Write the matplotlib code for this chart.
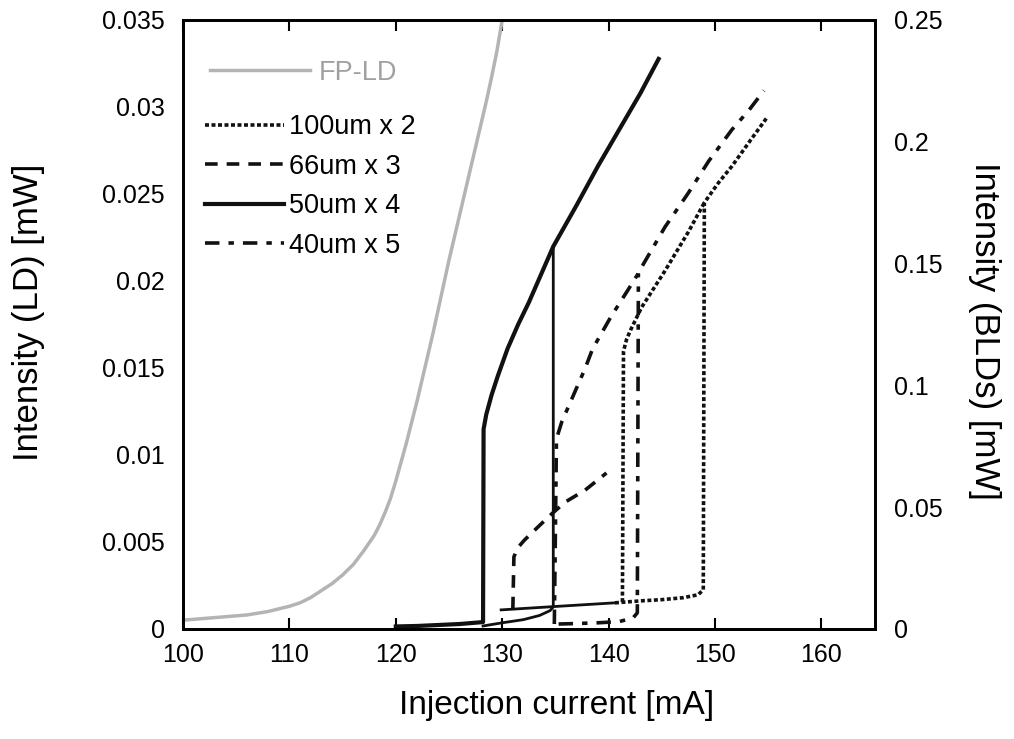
import matplotlib
matplotlib.use("Agg")
import matplotlib.pyplot as plt

plt.rcParams["font.family"] = ["Liberation Sans", "DejaVu Sans"]

# FP-LD (left axis, mW)
fp_x = [100, 102, 104, 106, 108, 110, 111, 112, 113, 114, 115, 116, 117, 118, 118.5, 119, 119.5, 120, 120.5, 121,
        121.5, 122, 122.5, 123, 123.5, 124, 124.5, 125, 125.5, 126, 126.5, 127, 127.5, 128, 128.5, 129, 129.5, 130]
fp_y = [0.0005, 0.0006, 0.0007, 0.0008, 0.0010, 0.0013, 0.0015, 0.0018, 0.0022, 0.0026, 0.0031, 0.0037, 0.0045,
        0.0054, 0.0060, 0.0067, 0.0075, 0.0085, 0.0096, 0.0107, 0.0119, 0.0131, 0.0144, 0.0157, 0.0170, 0.0184,
        0.0198, 0.0212, 0.0225, 0.0238, 0.0251, 0.0264, 0.0277, 0.0290, 0.0303, 0.0317, 0.0332, 0.0350]

# 50um x 4 (right axis, mW)
s50_x = [120, 122, 124, 126, 128.2, 128.25, 128.5, 129.0, 129.6, 130.5, 131.5, 132.5, 133.4, 134.8, 137, 139, 141,
         143, 144.7]
s50_y = [0.0010, 0.0012, 0.0016, 0.0020, 0.0028, 0.082, 0.088, 0.096, 0.104, 0.115, 0.125, 0.134, 0.143, 0.157,
         0.174, 0.190, 0.205, 0.220, 0.234]
s50_low_x = [128.2, 130, 132, 133.5, 134.5, 134.8, 134.8]
s50_low_y = [0.0012, 0.0025, 0.0038, 0.0055, 0.0075, 0.009, 0.157]
base_x = [129.9, 135, 140.6]
base_y = [0.0078, 0.0092, 0.0107]

# 100um x 2
s100_x = [140.6, 143, 145, 147, 148.4, 148.9, 149.0, 150.3, 151.6, 153.4, 154.9]
s100_y = [0.0107, 0.0115, 0.012, 0.0128, 0.014, 0.016, 0.175, 0.183, 0.190, 0.201, 0.210]
s100_up_x = [141.3, 141.4, 141.7, 142.1, 143.1, 145.3, 147.5, 149.0]
s100_up_y = [0.011, 0.114, 0.119, 0.123, 0.132, 0.147, 0.163, 0.175]

# 66um x 3
s66_x = [131.0, 131.1, 131.5, 132.1, 133.4, 134.6, 135.9, 137.8, 139.8]
s66_y = [0.008, 0.0296, 0.0335, 0.0365, 0.042, 0.047, 0.052, 0.057, 0.064]

# 40um x 5
s40_x = [134.9, 135.1, 135.6, 136.5, 137.8, 138.5, 140.2, 141.8, 142.8, 143.3, 145.3, 147.5, 149.4, 151.6, 153.2,
         154.6]
s40_y = [0.002, 0.078, 0.085, 0.094, 0.107, 0.115, 0.128, 0.139, 0.146, 0.150, 0.165, 0.179, 0.192, 0.205, 0.213,
         0.221]
s40_low_x = [135.3, 137, 139, 141, 142.3, 142.7, 142.8]
s40_low_y = [0.0020, 0.0022, 0.0025, 0.003, 0.0045, 0.0066, 0.146]

x_ticks = [100, 110, 120, 130, 140, 150, 160]
left_ticks = [0, 0.005, 0.01, 0.015, 0.02, 0.025, 0.03, 0.035]
right_ticks = [0, 0.05, 0.1, 0.15, 0.2, 0.25]

fig = plt.figure(figsize=(10.14, 7.39), dpi=100)
ax = fig.add_axes([0.1805, 0.149, 0.682, 0.824])
ax2 = ax.twinx()

k = "#111111"
fp_line, = ax.plot(fp_x, fp_y, color="#b4b4b4", lw=2.5)

l100, = ax2.plot(s100_x, s100_y, color=k, lw=2.6, ls=(0, (1.1, 0.7)))
ax2.plot(s100_up_x, s100_up_y, color=k, lw=2.6, ls=(0, (1.1, 0.7)))
l66, = ax2.plot(s66_x, s66_y, color=k, lw=2.6, ls=(0, (3.5, 2.5)))
l50, = ax2.plot(s50_x, s50_y, color=k, lw=3)
ax2.plot(s50_low_x, s50_low_y, color=k, lw=2)
ax2.plot(base_x, base_y, color=k, lw=2)
l40, = ax2.plot(s40_x, s40_y, color=k, lw=2.6, ls=(0, (4, 2.5, 1.5, 2.5)))
ax2.plot(s40_low_x, s40_low_y, color=k, lw=2.6, ls=(0, (4, 2.5, 1.5, 2.5)))

ax.set_xlim(100, 165)
ax.set_ylim(0, 0.035)
ax2.set_ylim(0, 0.25)
ax.set_xticks(x_ticks)
ax.set_yticks(left_ticks)
ax.set_yticklabels(["{:g}".format(v) for v in left_ticks])
ax2.set_yticks(right_ticks)
ax2.set_yticklabels(["{:g}".format(v) for v in right_ticks])

ax.tick_params(axis="x", direction="in", length=8, width=1.5, top=True, labelsize=18, pad=10)
ax.tick_params(axis="y", length=0, labelsize=18, pad=13)
ax2.tick_params(axis="y", length=0, labelsize=18, pad=14)
for a in (ax, ax2):
    for s in a.spines.values():
        s.set_linewidth(2)

ax.set_xlabel("Injection current [mA]", fontsize=24, va="center")
ax.xaxis.set_label_coords(0.54, -0.125)
ax.set_ylabel("Intensity (LD) [mW]", fontsize=25, va="center")
ax.yaxis.set_label_coords(-0.224, 0.52)
ax2.set_ylabel("Intensity (BLDs) [mW]", fontsize=25, rotation=270, va="center")
ax2.yaxis.set_label_coords(1.159, 0.49)

leg1 = ax.legend([fp_line], ["FP-LD"], loc="upper left", bbox_to_anchor=(0.039, 0.935), frameon=False,
                 fontsize=19.5, handlelength=3.7, handletextpad=0.3, borderaxespad=0, borderpad=0)
for t in leg1.get_texts():
    t.set_color("#a0a0a0")
ax2.legend([l100, l66, l50, l40], ["100um x 2", "66um x 3", "50um x 4", "40um x 5"], loc="upper left",
           bbox_to_anchor=(0.032, 0.845), frameon=False, fontsize=19.5, handlelength=2.9, handletextpad=0.2,
           labelspacing=0.5, borderaxespad=0, borderpad=0)

fig.savefig("out.png", dpi=100)
